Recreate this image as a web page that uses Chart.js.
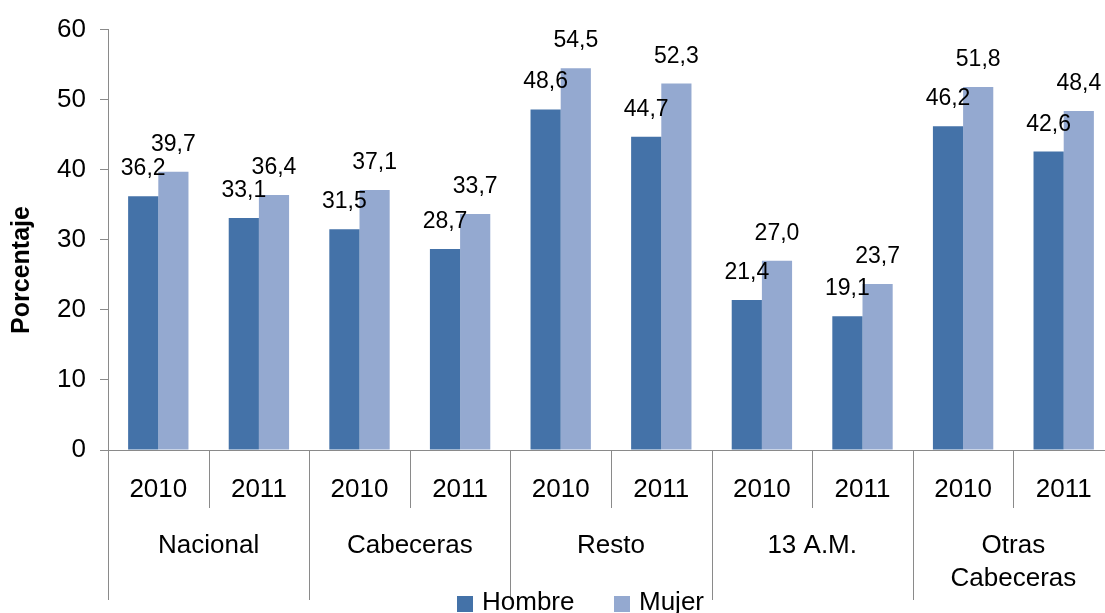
<!DOCTYPE html>
<html>
<head>
<meta charset="utf-8">
<script src="https://cdn.jsdelivr.net/npm/chart.js@4/dist/chart.umd.min.js"></script>
<style>
html,body{margin:0;padding:0;background:#fff;overflow:hidden;}
#wrap{width:1125px;height:613px;}
</style>
</head>
<body>
<div id="wrap"><canvas id="c" width="1125" height="613"></canvas></div>
<script>
const years = ['2010','2011','2010','2011','2010','2011','2010','2011','2010','2011'];
const groups = ['Nacional','Cabeceras','Resto','13 A.M.',['Otras','Cabeceras']];
const hombre = [36.2, 33.1, 31.5, 28.7, 48.6, 44.7, 21.4, 19.1, 46.2, 42.6];
const mujer  = [39.7, 36.4, 37.1, 33.7, 54.5, 52.3, 27.0, 23.7, 51.8, 48.4];
const yTicks = [0, 10, 20, 30, 40, 50, 60];
const yTitle = 'Porcentaje';

const FONT = '"Liberation Sans", Arial, sans-serif';
const LINE = '#8a8a8a';

const overlay = {
  id: 'overlay',
  afterDraw(chart) {
    const ctx = chart.ctx;
    const x = chart.scales.x;
    const area = chart.chartArea;
    const half = (x.getPixelForValue(1) - x.getPixelForValue(0)) / 2;
    const start = x.getPixelForValue(0) - half;
    ctx.save();
    // separators
    ctx.strokeStyle = LINE;
    ctx.lineWidth = 1;
    for (let k = 0; k <= years.length; k++) {
      const bx = Math.round(start + k * 2 * half) + 0.5;
      ctx.beginPath();
      ctx.moveTo(bx, area.bottom);
      ctx.lineTo(bx, k % 2 === 0 ? 600 : 508);
      ctx.stroke();
    }
    // group labels
    ctx.fillStyle = '#000';
    ctx.font = '26px ' + FONT;
    ctx.textAlign = 'center';
    ctx.textBaseline = 'middle';
    groups.forEach((g, i) => {
      const cx = start + (2 * i + 1) * 2 * half;
      const lines = Array.isArray(g) ? g : [g];
      lines.forEach((t, j) => ctx.fillText(t, cx, 546 + j * 33));
    });
    // data labels
    ctx.font = '23px ' + FONT;
    ctx.textBaseline = 'alphabetic';
    chart.data.datasets.forEach((ds, di) => {
      const meta = chart.getDatasetMeta(di);
      meta.data.forEach((bar, i) => {
        const v = ds.data[i];
        ctx.fillText(v.toFixed(1).replace('.', ','), bar.x, bar.y - 21);
      });
    });
    // y title
    ctx.save();
    ctx.translate(22, 270);
    ctx.rotate(-Math.PI / 2);
    ctx.font = 'bold 25px ' + FONT;
    ctx.textBaseline = 'middle';
    ctx.fillText(yTitle, 0, 0);
    ctx.restore();
    // legend
    const legendX = [457, 614];
    ctx.font = '26px ' + FONT;
    ctx.textAlign = 'left';
    ctx.textBaseline = 'middle';
    chart.data.datasets.forEach((ds, di) => {
      ctx.fillStyle = ds.backgroundColor;
      ctx.fillRect(legendX[di], 596, 16, 16);
      ctx.fillStyle = '#000';
      ctx.fillText(ds.label, legendX[di] + 25, 603);
    });
    ctx.restore();
  }
};

new Chart(document.getElementById('c'), {
  type: 'bar',
  data: {
    labels: years,
    datasets: [
      { label: 'Hombre', data: hombre, backgroundColor: '#4472A8', categoryPercentage: 0.6, barPercentage: 1.0 },
      { label: 'Mujer', data: mujer, backgroundColor: '#94A9D0', categoryPercentage: 0.6, barPercentage: 1.0 }
    ]
  },
  options: {
    responsive: false,
    devicePixelRatio: 1,
    animation: false,
    layout: { padding: { top: 28, left: 0, right: 11, bottom: 0 } },
    plugins: { legend: { display: false }, tooltip: { enabled: false } },
    scales: {
      x: {
        grid: { display: false, drawTicks: false },
        border: { display: true, color: LINE, width: 1 },
        ticks: { color: '#000', font: { family: FONT, size: 26 }, padding: 24, maxRotation: 0, autoSkip: false },
        afterFit(s) { s.height = 163; }
      },
      y: {
        min: 0, max: 60,
        afterBuildTicks(s) { s.ticks = yTicks.map(v => ({ value: v })); },
        grid: { drawOnChartArea: false, drawTicks: true, tickLength: 8, color: LINE },
        border: { display: true, color: LINE, width: 1 },
        ticks: { color: '#000', font: { family: FONT, size: 26 }, padding: 14 },
        afterFit(s) { s.width = 108; }
      }
    }
  },
  plugins: [overlay]
});
</script>
</body>
</html>
